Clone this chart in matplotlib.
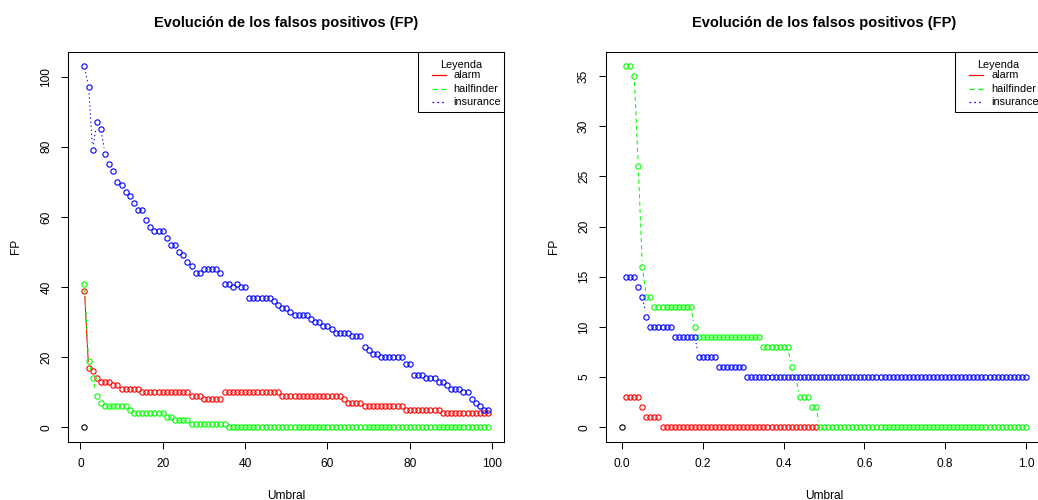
import numpy as np
import matplotlib
matplotlib.use("Agg")
import matplotlib.pyplot as plt
from matplotlib.patches import Rectangle
from matplotlib.lines import Line2D

plt.rcParams['font.family'] = ['Liberation Sans', 'DejaVu Sans']

W, H = 1038, 500

# ---- datos: panel izquierdo (umbral 1..99) ----
umbral_a = list(range(1, 100))
alarm_a = [39, 17, 16, 14, 13, 13, 13, 12, 12, 11,
           11, 11, 11, 11, 10, 10, 10, 10, 10, 10,
           10, 10, 10, 10, 10, 10, 9, 9, 9, 8,
           8, 8, 8, 8, 10, 10, 10, 10, 10, 10,
           10, 10, 10, 10, 10, 10, 10, 10, 9, 9,
           9, 9, 9, 9, 9, 9, 9, 9, 9, 9,
           9, 9, 9, 8, 7, 7, 7, 7, 6, 6,
           6, 6, 6, 6, 6, 6, 6, 6, 5, 5,
           5, 5, 5, 5, 5, 5, 5, 4, 4, 4,
           4, 4, 4, 4, 4, 4, 4, 4, 4]
hailfinder_a = [41, 19, 14, 9, 7, 6, 6, 6, 6, 6,
                6, 5, 4, 4, 4, 4, 4, 4, 4, 4,
                3, 3, 2, 2, 2, 2, 1, 1, 1, 1,
                1, 1, 1, 1, 1, 0, 0, 0, 0, 0,
                0, 0, 0, 0, 0, 0, 0, 0, 0, 0,
                0, 0, 0, 0, 0, 0, 0, 0, 0, 0,
                0, 0, 0, 0, 0, 0, 0, 0, 0, 0,
                0, 0, 0, 0, 0, 0, 0, 0, 0, 0,
                0, 0, 0, 0, 0, 0, 0, 0, 0, 0,
                0, 0, 0, 0, 0, 0, 0, 0, 0]
insurance_a = [103, 97, 79, 87, 85, 78, 75, 73, 70, 69,
               67, 66, 64, 62, 62, 59, 57, 56, 56, 56,
               54, 52, 52, 50, 49, 47, 46, 44, 44, 45,
               45, 45, 45, 44, 41, 41, 40, 41, 40, 40,
               37, 37, 37, 37, 37, 37, 36, 35, 34, 34,
               33, 32, 32, 32, 32, 31, 30, 30, 29, 29,
               28, 27, 27, 27, 27, 26, 26, 26, 23, 22,
               21, 21, 20, 20, 20, 20, 20, 20, 18, 18,
               15, 15, 15, 14, 14, 14, 13, 13, 12, 11,
               11, 11, 10, 10, 8, 7, 6, 5, 5]
rango_a_x = [1, 99]
rango_a_y = [0, 103]

# ---- datos: panel derecho (umbral 0.01..1.00) ----
umbral_b = list(np.arange(1, 101) / 100)
alarm_b = [3, 3, 3, 3, 2, 1, 1, 1, 1, 0,
           0, 0, 0, 0, 0, 0, 0, 0, 0, 0,
           0, 0, 0, 0, 0, 0, 0, 0, 0, 0,
           0, 0, 0, 0, 0, 0, 0, 0, 0, 0,
           0, 0, 0, 0, 0, 0, 0, 0, 0, 0,
           0, 0, 0, 0, 0, 0, 0, 0, 0, 0,
           0, 0, 0, 0, 0, 0, 0, 0, 0, 0,
           0, 0, 0, 0, 0, 0, 0, 0, 0, 0,
           0, 0, 0, 0, 0, 0, 0, 0, 0, 0,
           0, 0, 0, 0, 0, 0, 0, 0, 0, 0]
hailfinder_b = [36, 36, 35, 26, 16, 13, 13, 12, 12, 12,
                12, 12, 12, 12, 12, 12, 12, 10, 9, 9,
                9, 9, 9, 9, 9, 9, 9, 9, 9, 9,
                9, 9, 9, 9, 8, 8, 8, 8, 8, 8,
                8, 6, 5, 3, 3, 3, 2, 2, 0, 0,
                0, 0, 0, 0, 0, 0, 0, 0, 0, 0,
                0, 0, 0, 0, 0, 0, 0, 0, 0, 0,
                0, 0, 0, 0, 0, 0, 0, 0, 0, 0,
                0, 0, 0, 0, 0, 0, 0, 0, 0, 0,
                0, 0, 0, 0, 0, 0, 0, 0, 0, 0]
insurance_b = [15, 15, 15, 14, 13, 11, 10, 10, 10, 10,
               10, 10, 9, 9, 9, 9, 9, 9, 7, 7,
               7, 7, 7, 6, 6, 6, 6, 6, 6, 6,
               5, 5, 5, 5, 5, 5, 5, 5, 5, 5,
               5, 5, 5, 5, 5, 5, 5, 5, 5, 5,
               5, 5, 5, 5, 5, 5, 5, 5, 5, 5,
               5, 5, 5, 5, 5, 5, 5, 5, 5, 5,
               5, 5, 5, 5, 5, 5, 5, 5, 5, 5,
               5, 5, 5, 5, 5, 5, 5, 5, 5, 5,
               5, 5, 5, 5, 5, 5, 5, 5, 5, 5]
rango_b_x = [0, 1]
rango_b_y = [0, 36]

series_names = ['alarm', 'hailfinder', 'insurance']
colores = ['#ff0000', '#00ff00', '#0000ff']
estilos = ['-', (0, (4, 3)), (0, (1.3, 2.6))]

titulo = 'Evolución de los falsos positivos (FP)'
fs = 8.6
ms, mew = 3.8, 0.8


def fx(px):
    return px / W


def fy(py):
    return 1 - py / H


def tipo_b(ax, x, y, color, ls, tapados, gap=6.0):
    # imitates R type="b": lines with gaps around the symbols
    pts = ax.transData.transform(np.column_stack([x, y]))
    inv = ax.transData.inverted()
    for p0, p1 in zip(pts[:-1], pts[1:]):
        d = p1 - p0
        L = np.hypot(d[0], d[1])
        if L <= 2 * gap:
            continue
        u = d / L
        a = inv.transform(p0 + u * gap)
        b = inv.transform(p1 - u * gap)
        ax.plot([a[0], b[0]], [a[1], b[1]], color=color, ls=ls, lw=0.75)
    # symbols exactly covered by a later series are not drawn (avoid AA blending)
    vis = [i for i in range(len(x)) if not tapados[i]]
    ax.plot([x[i] for i in vis], [y[i] for i in vis], ls='none', marker='o',
            mfc='none', mec=color, ms=ms, mew=mew)


def leyenda(fig, right_px, top_px):
    w, h = 86.8, 60.0
    L = right_px - w
    fig.add_artist(Rectangle((fx(L), fy(top_px + h)), w / W, h / H,
                             transform=fig.transFigure, fill=True,
                             facecolor='white', edgecolor='black', lw=0.75,
                             zorder=5))
    fig.text(fx(L + w / 2), fy(top_px + 16), 'Leyenda', ha='center',
             va='baseline', fontsize=7.8, zorder=6)
    for i, (nm, c, ls) in enumerate(zip(series_names, colores, estilos)):
        yy = top_px + 23.3 + i * 13.6
        fig.add_artist(Line2D([fx(L + 14), fx(L + 28)], [fy(yy), fy(yy)],
                              transform=fig.transFigure, color=c, ls=ls,
                              lw=0.9, zorder=6))
        fig.text(fx(L + 36), fy(yy), nm, ha='left', va='center',
                 fontsize=7.8, zorder=6)


fig = plt.figure(figsize=(W / 100, H / 100), dpi=100)

paneles = [
    (68.3, umbral_a, [alarm_a, hailfinder_a, insurance_a], rango_a_x, rango_a_y,
     [0, 20, 40, 60, 80, 100], [0, 20, 40, 60, 80, 100], ['0', '20', '40', '60', '80', '100'],
     ['0', '20', '40', '60', '80', '100']),
    (606.0, umbral_b, [alarm_b, hailfinder_b, insurance_b], rango_b_x, rango_b_y,
     [0, 0.2, 0.4, 0.6, 0.8, 1.0], [0, 5, 10, 15, 20, 25, 30, 35],
     ['0.0', '0.2', '0.4', '0.6', '0.8', '1.0'],
     ['0', '5', '10', '15', '20', '25', '30', '35']),
]

ax_w, ax_top, ax_bot = 436.0, 51.7, 441.7
for left, xs, ys, rx, ry, xt, yt, xtl, ytl in paneles:
    ax = fig.add_axes([fx(left), fy(ax_bot), ax_w / W, (ax_bot - ax_top) / H])
    dx = (rx[1] - rx[0]) * 0.04
    dy = (ry[1] - ry[0]) * 0.04
    ax.set_xlim(rx[0] - dx, rx[1] + dx)
    ax.set_ylim(ry[0] - dy, ry[1] + dy)
    ax.set_xticks(xt)
    ax.set_xticklabels(xtl)
    ax.set_yticks(yt)
    ax.set_yticklabels(ytl, rotation=90, va='center')
    ax.tick_params(direction='out', length=5, width=0.75, labelsize=fs)
    ax.tick_params(axis='x', pad=7)
    ax.tick_params(axis='y', pad=6.5)
    for s in ax.spines.values():
        s.set_linewidth(0.75)
    ax.plot(rx, ry, ls='none', marker='o', mfc='none', mec='black', ms=ms,
            mew=mew, zorder=8)
    for k, (y, c, ls) in enumerate(zip(ys, colores, estilos)):
        tapados = [any(ys[j][i] == y[i] for j in range(k + 1, len(ys)))
                   for i in range(len(y))]
        tipo_b(ax, xs, y, c, ls, tapados)
    cx = left + ax_w / 2
    fig.text(fx(cx), fy(23), titulo, ha='center', va='center',
             fontsize=10.5, fontweight='bold')
    fig.text(fx(cx), fy(499), 'Umbral', ha='center', va='baseline', fontsize=fs)
    fig.text(fx(left - 52), fy((ax_top + ax_bot) / 2), 'FP', ha='center',
             va='center', rotation=90, fontsize=fs)
    leyenda(fig, left + ax_w, ax_top)

fig.savefig('out.png', dpi=100)
